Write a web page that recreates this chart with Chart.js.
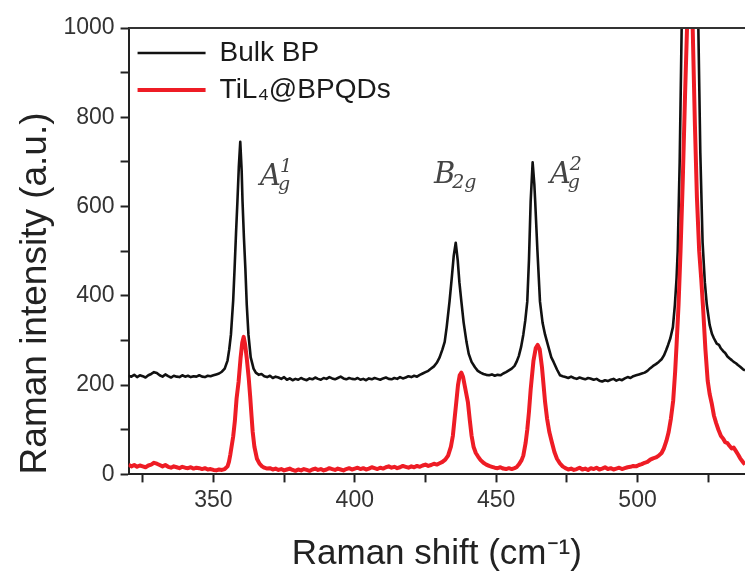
<!DOCTYPE html>
<html>
<head>
<meta charset="utf-8">
<script src="https://cdn.jsdelivr.net/npm/chart.js@4/dist/chart.umd.min.js"></script>
<style>
  html, body { margin: 0; padding: 0; background: #ffffff; overflow: hidden; }
  canvas { display: block; }
</style>
</head>
<body>
<canvas id="c" width="745" height="575"></canvas>
<script>
// ---------- data ----------
const seriesNames = ['Bulk BP', 'TiL\u2084@BPQDs'];

const bulkShift = [
  320,321,322,323,324,325,326,327,328,329,330,331,332,333,334,335,336,337,338,339,
  340,341,342,343,344,345,346,347,348,349,350,351,352,353,354,355,355.6,356.2,357,357.5,
  358,358.5,359,359.5,360,360.3,360.8,361.3,361.8,362.4,363.2,364.2,365,366,367,368,369,370,
  371,372,373,374,375,376,377,378,379,380,381,382,383,384,385,386,387,388,389,390,
  391,392,393,394,395,396,397,398,399,400,401,402,403,404,405,406,407,408,409,410,
  411,412,413,414,415,416,417,418,419,420,421,422,423,424,425,426,427,428,429,430,
  431,431.8,432.5,433.5,434.3,435,435.7,436.4,437,437.7,438.5,439.5,440.3,441.3,442.5,443.5,
  444.5,445.5,446.5,447.5,448.5,449.5,450.5,451.5,452.5,453.5,454.5,455.5,456.5,457.2,458,
  458.8,459.6,460.3,461,461.6,462.2,462.9,463.5,463.8,464.6,465.5,466.4,467.3,468.5,469.5,
  470.3,471.5,472.6,473.5,474.5,475.5,476.5,477.5,478.5,479.5,480.5,481.5,482.5,483.3,484.5,
  485.5,486.5,487.5,488.5,489.5,490.5,491.5,492.5,493.5,494.5,495.5,496.5,497.5,498.5,499.5,
  500.5,501.5,502.5,503.5,504.5,505.5,506.5,507.5,508.5,509.3,510.1,510.8,511.6,512.5,513.2,
  513.8,514.2,514.9,515.6,516.5,517.5,518.5,519.5,520.5,521.5,522.2,523,523.8,524.5,525.5,
  526.3,527,528,528.8,529.5,530.3,531,531.8,532.5,533.3,534,534.8,535.5,536.3,537.2,538
];
const bulkIntensity = [
  221,219,223,218,222,220,217,222,225,229,227,222,219,224,220,217,221,219,218,222,
  219,221,218,220,219,222,219,218,221,220,222,224,226,230,237,255,280,313,390,462,
  540,612,690,745,680,612,530,462,380,313,262,237,228,223,225,220,218,221,
  216,219,217,214,218,212,215,211,214,212,216,213,211,215,213,217,214,212,216,214,
  218,215,213,216,219,215,213,216,214,213,216,212,214,211,215,213,216,214,212,215,
  217,214,213,216,214,218,215,217,220,218,221,219,223,226,229,232,237,242,250,262,
  280,297,330,387,440,490,519,480,430,387,340,297,270,252,240,232,
  228,225,223,222,224,221,223,222,226,229,233,237,243,252,265,
  285,313,345,387,480,612,699,650,612,500,387,340,313,285,262,
  252,235,222,220,218,216,219,216,214,217,215,213,216,215,212,
  214,210,208,211,209,212,214,210,213,211,215,218,216,220,222,
  224,226,228,232,238,243,247,252,258,266,278,290,305,330,380,
  440,500,700,1000,1800,3000,3800,3000,1800,1000,720,520,430,380,335,
  315,305,293,290,282,276,272,264,260,256,252,249,245,241,236,233
];

const qdShift = [
  320,321,322,323,324,325,326,327,328,329,330,331,332,333,334,335,336,337,338,339,
  340,341,342,343,344,345,346,347,348,349,350,351,352,353,354,355,355.5,356,357,357.6,
  358.2,358.9,359.6,360.2,360.7,361.2,361.8,362.5,363,363.5,363.9,364.5,365.4,366.3,367.2,368,369,370,
  371,372,373,374,375,376,377,378,379,380,381,382,383,384,385,386,387,388,389,390,
  391,392,393,394,395,396,397,398,399,400,401,402,403,404,405,406,407,408,409,410,
  411,412,413,414,415,416,417,418,419,420,421,422,423,424,425,426,427,428,429,430,
  431,432,433,434,434.7,435.3,435.9,436.5,437.1,437.7,438.3,439,440,440.7,441.3,442,442.8,443.6,
  444.5,445.5,446.5,447.5,448.5,449.5,450.5,451.5,452.5,453.5,454.5,455.5,456.5,457.2,458,
  459,459.6,460.4,461,461.6,462.2,463.2,464,464.7,465.4,466.2,467.3,468,468.8,469.7,470.6,
  471.5,472.5,473.5,474.5,475.5,476.5,477.5,478.5,479.5,480.5,481.5,482.5,483.5,484.5,
  485.5,486.5,487.5,488.5,489.5,490.5,491.5,492.5,493.5,494.5,495.5,496.5,497.5,498.5,499.5,
  500.5,501.5,502.5,503.5,504.5,505.5,506.5,507.5,508.5,509.3,510.2,511,511.8,512.6,513.3,
  513.8,514.5,515.2,516,516.8,517.5,518.5,519.5,520.3,521,521.8,522.5,523.2,524,524.8,
  525.5,526.2,527,527.8,528.6,529.5,530.3,531,531.8,532.5,533.3,534,534.8,535.6,536.3,537,537.6,538
];
const qdIntensity = [
  22,18,21,17,20,18,16,20,22,26,24,21,18,21,17,15,18,16,14,17,
  15,14,16,13,15,14,12,14,11,12,10,9,11,10,12,18,28,45,85,120,
  170,207,260,295,308,292,260,215,175,130,95,62,35,24,18,15,13,14,
  11,13,10,12,9,11,13,10,8,11,9,12,10,8,11,13,10,12,9,11,
  14,12,10,13,11,9,12,14,11,13,15,12,14,11,13,16,14,12,15,13,
  16,18,15,17,14,16,19,17,15,18,16,19,17,20,22,19,21,24,22,25,
  28,33,42,62,87,125,162,200,222,228,218,195,162,120,87,62,48,40,
  32,26,22,19,17,15,14,16,13,12,14,12,14,16,22,
  32,42,70,100,140,190,255,283,290,280,240,162,125,95,72,50,
  35,25,18,14,11,13,10,12,15,11,13,10,14,12,
  15,11,13,16,12,14,11,13,15,12,14,16,17,19,18,
  21,23,26,28,33,36,38,42,48,58,75,95,125,165,230,
  290,380,500,660,850,1000,1600,1000,780,620,500,440,370,280,210,
  180,160,132,115,100,86,80,72,70,64,58,60,52,44,36,30,25,22
];

// peak-assignment annotations (text + anchor in data units)
const peakMain = ['A', 'B', 'A'];
const peakSup = ['1', '', '2'];
const peakSub = ['g', '2g', 'g'];
const peakLabelShift = [366.5, 428.0, 469.0];
const peakLabelIntensity = [648, 652, 652];

const xTickMin = 320, xTickMax = 538;
const yTickMin = 0, yTickMax = 1000;

// ---------- chart ----------
Chart.defaults.font.family = '"Liberation Sans", Arial, sans-serif';

const frameAndLabels = {
  id: 'frameAndLabels',
  afterDatasetsDraw(chart) {
    const { ctx, chartArea, scales: { x, y } } = chart;
    ctx.save();
    // top frame line
    ctx.strokeStyle = '#333';
    ctx.lineWidth = 2;
    ctx.beginPath();
    ctx.moveTo(chartArea.left, chartArea.top);
    ctx.lineTo(chartArea.right, chartArea.top);
    ctx.stroke();
    // peak labels
    ctx.fillStyle = '#444444';
    ctx.textBaseline = 'alphabetic';
    ctx.textAlign = 'left';
    peakMain.forEach((t, i) => {
      const px = x.getPixelForValue(peakLabelShift[i]);
      const py = y.getPixelForValue(peakLabelIntensity[i]);
      ctx.font = 'italic 29px "DejaVu Serif", serif';
      ctx.fillText(t, px, py);
      const w = ctx.measureText(t).width;
      ctx.font = 'italic 19px "DejaVu Serif", serif';
      if (peakSup[i]) ctx.fillText(peakSup[i], px + w - 1, py - 13);
      ctx.fillText(peakSub[i], px + w - 3, py + 5);
    });
    ctx.restore();
  }
};

new Chart(document.getElementById('c'), {
  type: 'line',
  data: {
    datasets: [
      {
        label: seriesNames[0],
        data: bulkShift.map((v, i) => ({ x: v, y: bulkIntensity[i] })),
        borderColor: '#111111',
        backgroundColor: '#111111',
        borderWidth: 2.6,
        borderJoinStyle: 'round',
        pointRadius: 0,
        tension: 0,
        order: 2
      },
      {
        label: seriesNames[1],
        data: qdShift.map((v, i) => ({ x: v, y: qdIntensity[i] })),
        borderColor: '#ee1c25',
        backgroundColor: '#ee1c25',
        borderWidth: 4,
        borderJoinStyle: 'round',
        pointRadius: 0,
        tension: 0,
        order: 1
      }
    ]
  },
  options: {
    responsive: false,
    animation: false,
    layout: { padding: { top: 28, right: 0, bottom: 0, left: 14 } },
    plugins: {
      tooltip: { enabled: false },
      legend: {
        position: 'chartArea',
        align: 'start',
        title: { display: true, text: '', font: { size: 10 }, padding: { top: 18, bottom: 0 } },
        labels: {
          usePointStyle: true,
          pointStyle: 'line',
          pointStyleWidth: 68,
          padding: 9,
          color: '#1a1a1a',
          font: { size: 28 },
          sort: (a, b) => a.datasetIndex - b.datasetIndex
        }
      }
    },
    scales: {
      x: {
        type: 'linear',
        min: xTickMin,
        max: xTickMax,
        ticks: {
          stepSize: 25,
          includeBounds: false,
          autoSkip: false,
          maxRotation: 0,
          padding: 4,
          color: '#333',
          font: { size: 23 },
          callback: (v) => (v % 50 === 0 ? String(v) : '')
        },
        grid: { drawOnChartArea: false, tickLength: 8, tickWidth: 2, tickColor: '#222' },
        border: { color: '#222', width: 2 },
        title: {
          display: true,
          text: 'Raman shift (cm\u207B\u00B9)',
          color: '#222',
          font: { size: 35 },
          padding: { top: 15, bottom: 0 }
        }
      },
      y: {
        type: 'linear',
        min: yTickMin,
        max: yTickMax,
        ticks: {
          stepSize: 100,
          autoSkip: false,
          padding: 6,
          color: '#333',
          font: { size: 23 },
          callback: (v) => (v % 200 === 0 ? String(v) : '')
        },
        grid: { drawOnChartArea: false, tickLength: 8, tickWidth: 2, tickColor: '#222' },
        border: { color: '#222', width: 2 },
        title: {
          display: true,
          align: 'start',
          text: 'Raman intensity (a.u.)',
          color: '#222',
          font: { size: 37 },
          padding: { top: 0, bottom: -1 }
        }
      }
    }
  },
  plugins: [frameAndLabels]
});
</script>
</body>
</html>
